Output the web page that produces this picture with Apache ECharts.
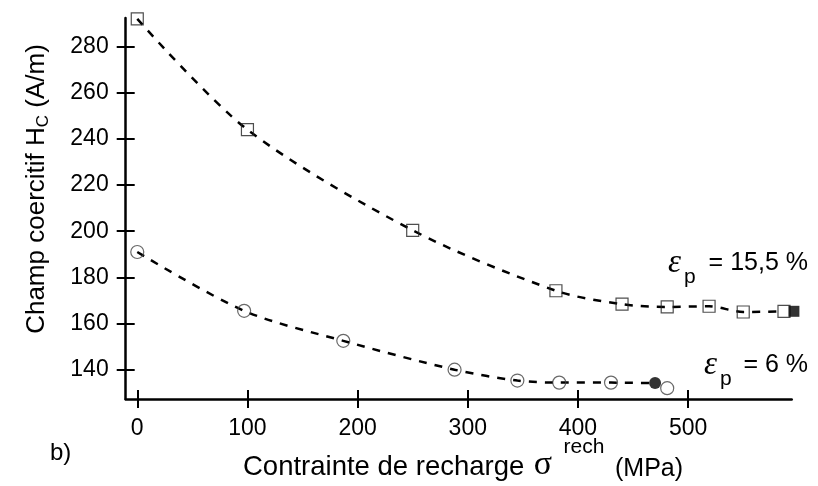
<!DOCTYPE html>
<html>
<head>
<meta charset="utf-8">
<script src="https://cdn.jsdelivr.net/npm/echarts@6/dist/echarts.min.js"></script>
<style>
  html, body { margin: 0; padding: 0; background: #fff; }
  #chart { width: 818px; height: 486px; }
</style>
</head>
<body>
<div id="chart"></div>
<script>
// eps_p = 15,5 % (carrés)
var sqX = [0, 100, 250, 380, 440, 481, 519, 550, 587];
var sqY = [292, 244, 200.4, 174.2, 168.4, 167.2, 167.5, 165, 165.3];
var sqFilled = [596, 165.3];
// eps_p = 6 % (cercles)
var ciX = [0, 97, 187, 288, 345, 383, 430, 481];
var ciY = [191, 165.5, 152.5, 140, 135.3, 134.4, 134.4, 132];
var ciFilled = [470, 134.2];
// graduations
var xTicks = [0, 100, 200, 300, 400, 500];
var yTicks = [140, 160, 180, 200, 220, 240, 260, 280];

var font = 'Liberation Sans, Arial, sans-serif';

function pairs(xs, ys) {
  return xs.map(function (x, i) { return [x, ys[i]]; });
}
var sqPts = pairs(sqX, sqY);
var ciPts = pairs(ciX, ciY);
// la courbe des cercles s'arrete au point plein
var ciLine = ciPts.slice(0, 7).concat([ciFilled]);

var chart = echarts.init(document.getElementById('chart'));

var xBase = {
  type: 'value', min: -10.5, max: 594, gridIndex: 0, position: 'bottom',
  splitLine: { show: false }
};
var yBase = {
  type: 'value', min: 127.3, max: 292.4, gridIndex: 0, position: 'left',
  splitLine: { show: false }
};

var option = {
  animation: false,
  backgroundColor: '#fff',
  grid: { left: 125.7, top: 18, right: 26.3, bottom: 87 },
  xAxis: [
    Object.assign({}, xBase, {
      axisLine: { show: true, onZero: false, lineStyle: { color: '#000', width: 2.5 } },
      axisTick: { show: true, inside: false, length: 9, customValues: xTicks, lineStyle: { color: '#000', width: 2 } },
      axisLabel: { customValues: xTicks, margin: 18, color: '#000', fontSize: 23, fontFamily: font }
    }),
    Object.assign({}, xBase, {
      axisLine: { show: false, onZero: false },
      axisTick: { show: true, inside: true, length: 9, customValues: xTicks, lineStyle: { color: '#000', width: 2 } },
      axisLabel: { show: false }
    })
  ],
  yAxis: [
    Object.assign({}, yBase, {
      axisLine: { show: true, onZero: false, lineStyle: { color: '#000', width: 2.5 } },
      axisTick: { show: true, inside: false, length: 9, customValues: yTicks, lineStyle: { color: '#000', width: 2 } },
      axisLabel: { customValues: yTicks, margin: 17, color: '#000', fontSize: 23, fontFamily: font }
    }),
    Object.assign({}, yBase, {
      axisLine: { show: false, onZero: false },
      axisTick: { show: true, inside: true, length: 9, customValues: yTicks, lineStyle: { color: '#000', width: 2 } },
      axisLabel: { show: false }
    })
  ],
  series: [
    {
      type: 'line', data: sqPts, smooth: 0.3, showSymbol: false,
      lineStyle: { color: '#000', width: 2.5, type: [8, 8] }, z: 2, clip: false
    },
    {
      type: 'line', data: ciLine, smooth: 0.3, showSymbol: false,
      lineStyle: { color: '#000', width: 2.5, type: [8, 8] }, z: 2, clip: false
    },
    {
      type: 'scatter', data: sqPts, symbol: 'rect', symbolSize: 12, z: 3, clip: false,
      itemStyle: { color: 'rgba(0,0,0,0)', borderColor: '#222', borderWidth: 1.2 }
    },
    {
      type: 'scatter', data: ciPts, symbol: 'circle', symbolSize: 13, z: 3, clip: false,
      itemStyle: { color: 'rgba(0,0,0,0)', borderColor: '#444', borderWidth: 1.2 }
    },
    {
      type: 'scatter', data: [sqFilled], symbol: 'rect', symbolSize: 11, z: 4, clip: false,
      itemStyle: { color: '#000' }
    },
    {
      type: 'scatter', data: [ciFilled], symbol: 'circle', symbolSize: 12, z: 4, clip: false,
      itemStyle: { color: '#000' }
    }
  ],
  graphic: [
    {
      type: 'text', x: 37, y: 189, rotation: Math.PI / 2,
      style: {
        text: 'Champ coercitif H{s|C} (A/m)', font: '26px ' + font, fill: '#000',
        textAlign: 'center', textVerticalAlign: 'middle',
        rich: { s: { fontSize: 17, fontFamily: font, fill: '#000', verticalAlign: 'bottom', lineHeight: 30 } }
      }
    },
    { type: 'text', x: 243, y: 467, style: { text: 'Contrainte de recharge', font: '27.5px ' + font, fill: '#000', textAlign: 'left', textVerticalAlign: 'middle' } },
    { type: 'text', x: 543, y: 465, style: { text: 'σ', font: '34px Liberation Serif, serif', fill: '#000', textAlign: 'center', textVerticalAlign: 'middle' } },
    { type: 'text', x: 584, y: 447, style: { text: 'rech', font: '21px ' + font, fill: '#000', textAlign: 'center', textVerticalAlign: 'middle' } },
    { type: 'text', x: 615, y: 469, style: { text: '(MPa)', font: '25px ' + font, fill: '#000', textAlign: 'left', textVerticalAlign: 'middle' } },
    { type: 'text', x: 50, y: 453, style: { text: 'b)', font: '24px ' + font, fill: '#000', textAlign: 'left', textVerticalAlign: 'middle' } },

    { type: 'text', x: 668, y: 263, style: { text: 'ε', font: 'italic 33px Liberation Serif, serif', fill: '#000', textAlign: 'left', textVerticalAlign: 'middle' } },
    { type: 'text', x: 684, y: 277, style: { text: 'p', font: '21px ' + font, fill: '#000', textAlign: 'left', textVerticalAlign: 'middle' } },
    { type: 'text', x: 808, y: 263, style: { text: '= 15,5 %', font: '25px ' + font, fill: '#000', textAlign: 'right', textVerticalAlign: 'middle' } },

    { type: 'text', x: 704, y: 365, style: { text: 'ε', font: 'italic 33px Liberation Serif, serif', fill: '#000', textAlign: 'left', textVerticalAlign: 'middle' } },
    { type: 'text', x: 720, y: 379, style: { text: 'p', font: '21px ' + font, fill: '#000', textAlign: 'left', textVerticalAlign: 'middle' } },
    { type: 'text', x: 808, y: 365, style: { text: '= 6 %', font: '25px ' + font, fill: '#000', textAlign: 'right', textVerticalAlign: 'middle' } }
  ]
};

chart.setOption(option);
</script>
</body>
</html>
